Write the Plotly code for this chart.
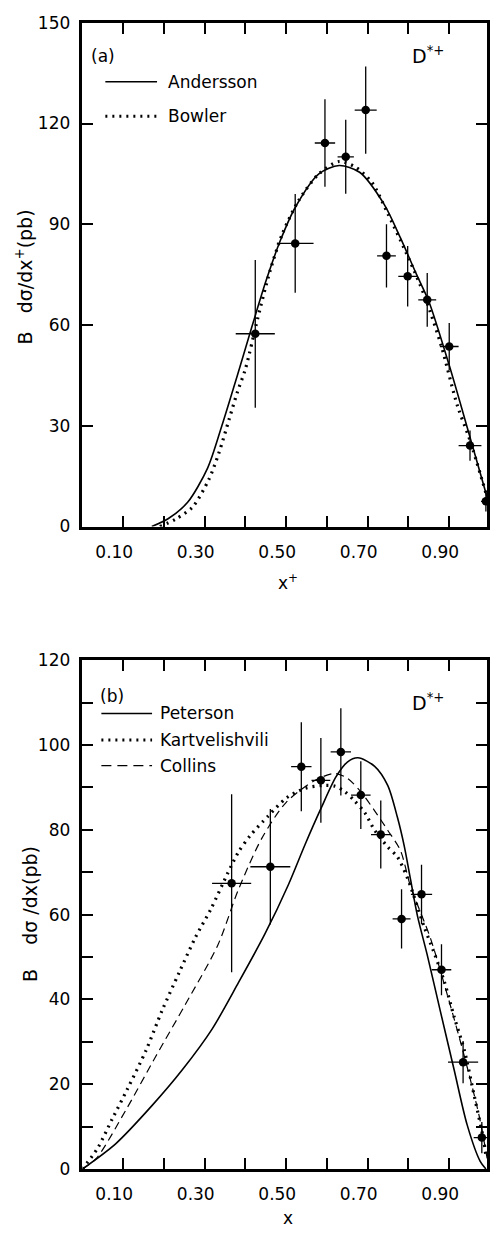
import plotly.graph_objects as go

W, H = 490, 1238

# ---------------- Panel (a) ----------------
a_x = [0.424, 0.522, 0.595, 0.646, 0.695, 0.746, 0.798, 0.846, 0.900, 0.951, 0.990]
a_y = [57.4, 84.3, 114.2, 110.1, 124.0, 80.6, 74.5, 67.5, 53.6, 24.1, 7.5]
a_xerr = [0.048, 0.045, 0.025, 0.020, 0.027, 0.023, 0.023, 0.022, 0.023, 0.028, 0.012]
a_yerr = [22.0, 14.7, 13.0, 11.0, 13.0, 9.4, 9.0, 8.0, 7.0, 4.5, 3.0]

andersson_x = [0.17, 0.21, 0.258, 0.307, 0.342, 0.38, 0.417, 0.45, 0.485, 0.522, 0.58, 0.63,
               0.68, 0.74, 0.78, 0.82, 0.85, 0.90, 0.95, 0.99, 1.00]
andersson_y = [0, 2.3, 7.2, 17.4, 30, 45, 60, 73, 85, 95, 105, 107.5,
               105.5, 96, 86, 75, 67, 48, 27, 10, 6]

bowler_x = [0.19, 0.23, 0.27, 0.31, 0.335, 0.36, 0.38, 0.40, 0.43, 0.46, 0.49, 0.53, 0.58,
            0.63, 0.67, 0.71, 0.75, 0.80, 0.84, 0.88, 0.92, 0.95, 0.99]
bowler_y = [0, 2.3, 5.8, 14, 22, 32, 40, 47, 62, 76, 87, 97, 105,
            108.7, 107, 102.5, 93, 80, 68.5, 54, 36, 26, 10]

# ---------------- Panel (b) ----------------
b_x = [0.366, 0.461, 0.537, 0.585, 0.634, 0.683, 0.732, 0.783, 0.832, 0.881, 0.934, 0.980]
b_y = [67.4, 71.3, 94.9, 91.7, 98.4, 88.2, 78.9, 59.0, 64.8, 47.0, 25.2, 7.4]
b_xerr = [0.048, 0.049, 0.025, 0.023, 0.025, 0.024, 0.024, 0.022, 0.026, 0.024, 0.037, 0.020]
b_yerr = [21.0, 13.6, 10.5, 10.0, 10.3, 8.0, 8.0, 7.0, 7.0, 6.0, 5.0, 3.7]

peterson_x = [0, 0.082, 0.171, 0.245, 0.318, 0.383, 0.448, 0.505, 0.546, 0.585, 0.622, 0.65, 0.676,
              0.717, 0.749, 0.773, 0.790, 0.805, 0.822, 0.846, 0.878, 0.912, 0.944, 0.976, 0.99]
peterson_y = [0, 6, 15, 23.4, 33, 44, 55.5, 67, 76.5, 85, 92.5, 96, 97,
              95, 90.5, 82.9, 76, 68.3, 59.7, 50.5, 37.3, 23.4, 10.4, 1.8, 0]

kart_x = [0, 0.037, 0.073, 0.11, 0.156, 0.195, 0.237, 0.277, 0.315, 0.356, 0.383, 0.412, 0.456,
          0.50, 0.546, 0.595, 0.62, 0.644, 0.668, 0.693, 0.717, 0.749, 0.773, 0.798, 0.839,
          0.863, 0.888, 0.912, 0.937, 0.961, 0.985, 0.99]
kart_y = [0, 4.9, 11.8, 18.8, 28, 37.3, 46.3, 54.6, 61.3, 69.7, 74.8, 78.7, 83.3,
          87.5, 89.8, 90.5, 90.3, 89, 86.8, 84, 79.9, 76, 73.6, 68.5, 57,
          51, 44.2, 35.9, 28, 17.4, 6.5, 3]

collins_x = [0, 0.034, 0.107, 0.18, 0.253, 0.332, 0.383, 0.44, 0.50, 0.571, 0.62, 0.651,
             0.683, 0.717, 0.749, 0.78, 0.805, 0.854, 0.895, 0.937, 0.973, 0.993]
collins_y = [0, 2.5, 14, 26.6, 38.9, 52.8, 66, 78, 86.5, 91.7, 93.3, 92.1,
             89, 84.5, 79.9, 75.2, 66.7, 54.4, 41.2, 26.6, 12.7, 2.5]

# tick labels
x_tickvals = [0.1, 0.3, 0.5, 0.7, 0.9]
x_ticktext = ["0.10", "0.30", "0.50", "0.70", "0.90"]
ya_tickvals = [0, 30, 60, 90, 120, 150]
ya_ticktext = ["0", "30", "60", "90", "120", "150"]
yb_tickvals = [0, 20, 40, 60, 80, 100, 120]
yb_ticktext = ["0", "20", "40", "60", "80", "100", "120"]

FONT = "DejaVu Sans"
BLACK = "black"


def px(x):
    return x / W


def py(y):
    return (H - y) / H


fig = go.Figure()

eb = dict(type="data", thickness=1.3, width=0, color=BLACK)

# panel (a) traces
fig.add_trace(go.Scatter(x=andersson_x, y=andersson_y, mode="lines",
                         line=dict(color=BLACK, width=1.6, shape="spline", smoothing=0.8),
                         xaxis="x", yaxis="y", showlegend=False))
fig.add_trace(go.Scatter(x=bowler_x, y=bowler_y, mode="lines",
                         line=dict(color=BLACK, width=3.2, dash="2px,5px", shape="spline", smoothing=0.8),
                         xaxis="x", yaxis="y", showlegend=False))
fig.add_trace(go.Scatter(x=a_x, y=a_y, mode="markers", marker=dict(color=BLACK, size=8.5),
                         error_x=dict(array=a_xerr, **eb), error_y=dict(array=a_yerr, **eb),
                         xaxis="x", yaxis="y", showlegend=False))

# panel (b) traces
fig.add_trace(go.Scatter(x=peterson_x, y=peterson_y, mode="lines",
                         line=dict(color=BLACK, width=1.6, shape="spline", smoothing=0.8),
                         xaxis="x2", yaxis="y2", showlegend=False))
fig.add_trace(go.Scatter(x=kart_x, y=kart_y, mode="lines",
                         line=dict(color=BLACK, width=3.2, dash="2px,5px", shape="spline", smoothing=0.8),
                         xaxis="x2", yaxis="y2", showlegend=False))
fig.add_trace(go.Scatter(x=collins_x, y=collins_y, mode="lines",
                         line=dict(color=BLACK, width=1.2, dash="8px,5px", shape="spline", smoothing=0.8),
                         xaxis="x2", yaxis="y2", showlegend=False))
fig.add_trace(go.Scatter(x=b_x, y=b_y, mode="markers", marker=dict(color=BLACK, size=8.5),
                         error_x=dict(array=b_xerr, **eb), error_y=dict(array=b_yerr, **eb),
                         xaxis="x2", yaxis="y2", showlegend=False))

XR = [0, (W - 83) / 410]
axis_common = dict(showline=True, linewidth=2.6, linecolor=BLACK, mirror="ticks", ticks="inside",
                   ticklen=11, tickwidth=1.5, tickcolor=BLACK, showgrid=False, zeroline=False,
                   tickfont=dict(family=FONT, size=17, color=BLACK))
minor_x = dict(tick0=0, dtick=0.1, ticks="inside", ticklen=11, tickwidth=1.5, tickcolor=BLACK, showgrid=False)
minor_yb = dict(tick0=0, dtick=10, ticks="inside", ticklen=11, tickwidth=1.5, tickcolor=BLACK, showgrid=False)

fig.update_layout(
    width=W, height=H,
    margin=dict(l=0, r=0, t=0, b=0),
    paper_bgcolor="white", plot_bgcolor="white",
    xaxis=dict(domain=[px(83), 1], anchor="y", range=XR, tickmode="array", tickvals=x_tickvals,
               ticktext=x_ticktext, ticklabelshift=-9, ticklabelstandoff=8, minor=minor_x, **axis_common),
    yaxis=dict(domain=[py(525), py(13)], anchor="x", range=[0, 150], tickmode="array",
               tickvals=ya_tickvals, ticktext=ya_ticktext, ticklabelstandoff=6, **axis_common),
    xaxis2=dict(domain=[px(83), 1], anchor="y2", range=XR, tickmode="array", tickvals=x_tickvals,
                ticktext=x_ticktext, ticklabelshift=-9, ticklabelstandoff=8, minor=minor_x, **axis_common),
    yaxis2=dict(domain=[py(1178), py(661)], anchor="x2", range=[0, 120], tickmode="array",
                tickvals=yb_tickvals, ticktext=yb_ticktext, ticklabelstandoff=6, minor=minor_yb,
                **axis_common),
)

ann = []


def text(x, y, s, xanchor="left", size=17, angle=0):
    ann.append(dict(x=px(x), y=py(y), xref="paper", yref="paper", text=s, showarrow=False,
                    xanchor=xanchor, yanchor="middle", textangle=angle,
                    font=dict(family=FONT, size=size, color=BLACK)))


# panel (a) texts
text(104, 47, "(a)", xanchor="center")
text(167, 73, "Andersson")
text(167, 108, "Bowler")
text(413, 46, "D<sup>*+</sup>", size=19)
text(290, 581, "x<sup>+</sup>", xanchor="center", size=17)
text(24, 271, "B   dσ/dx<sup>+</sup>(pb)", xanchor="center", size=19, angle=-90)

# panel (b) texts
text(113, 697, "(b)", xanchor="center")
text(159, 715, "Peterson")
text(159, 742, "Kartvelishvili")
text(159, 768, "Collins")
text(413, 703, "D<sup>*+</sup>", size=19)
text(290, 1228, "x", xanchor="center", size=17)
text(30, 919, "B    dσ /dx(pb)", xanchor="center", size=19, angle=-90)

shapes = []


def seg(x0, x1, y, dash, width):
    shapes.append(dict(type="line", xref="paper", yref="paper", x0=px(x0), x1=px(x1), y0=py(y), y1=py(y),
                       line=dict(color=BLACK, width=width, dash=dash)))


seg(106, 158, 73, "solid", 1.6)
seg(106, 158, 108, "2px,5px", 3.2)
seg(102, 153, 715, "solid", 1.6)
seg(102, 153, 742, "2px,5px", 3.2)
seg(102, 153, 768, "10px,6px", 1.2)

fig.update_layout(annotations=ann, shapes=shapes)

fig.write_html("out.html")
